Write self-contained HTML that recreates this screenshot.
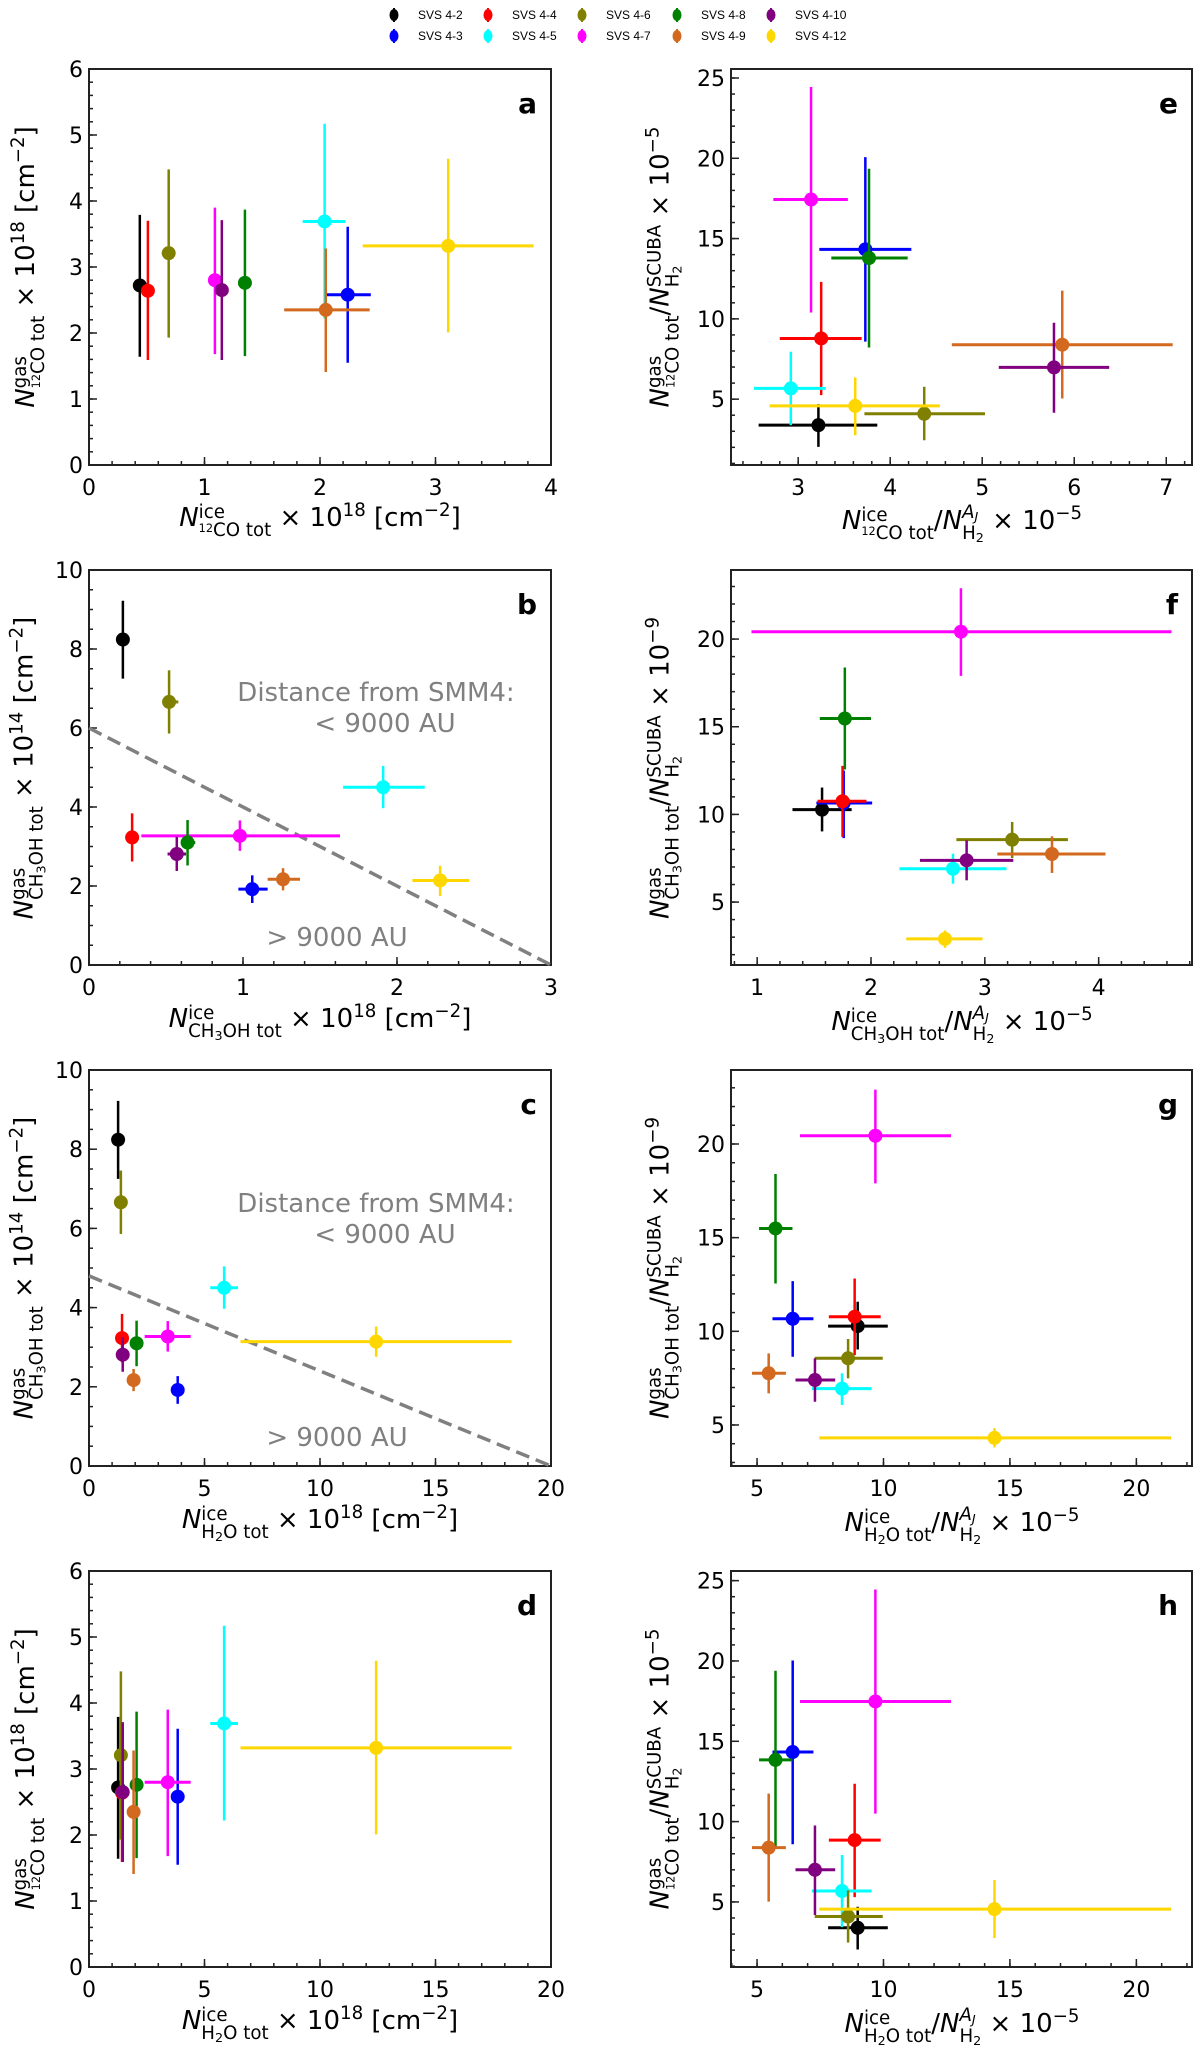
<!DOCTYPE html>
<html><head><meta charset="utf-8">
<style>
body{margin:0;background:#fff;}
#wrap{position:relative;width:1200px;height:2054px;overflow:hidden;background:#fff;font-family:"DejaVu Sans","Liberation Sans",sans-serif;}
svg{position:absolute;left:0;top:0;}
.lab{position:absolute;white-space:nowrap;font-size:26px;color:#000;line-height:1;}
.xl{transform:translateX(-50%);}
.yl{transform:translate(-50%,-50%) rotate(-90deg);}
.st{display:inline-block;vertical-align:-0.55em;font-size:.7em;line-height:1.0;text-align:left;}
.st>span{display:block;white-space:nowrap;}
.i{font-style:italic;}
.iso{font-size:.62em;vertical-align:.35em;}
.sb{font-size:.7em;vertical-align:-.25em;}
sup{font-size:.7em;vertical-align:.55em;line-height:0;}
</style></head><body>
<div id="wrap">
<svg id="chart" width="1200" height="2054"></svg>

<div class="lab xl" style="left:320px;top:504px"><span class="i">N</span><span class="st"><span>ice</span><span><span class="iso">12</span>CO tot</span></span> × 10<sup>18</sup> [cm<sup>−2</sup>]</div>
<div class="lab yl" style="left:30px;top:267px"><span class="i">N</span><span class="st"><span>gas</span><span><span class="iso">12</span>CO tot</span></span> × 10<sup>18</sup> [cm<sup>−2</sup>]</div>
<div class="lab xl" style="left:962px;top:504px"><span class="i">N</span><span class="st"><span>ice</span><span><span class="iso">12</span>CO tot</span></span>/<span class="i">N</span><span class="st"><span><span class="i">A<span class="sb">J</span></span></span><span>H<span class="sb">2</span></span></span> × 10<sup>−5</sup></div>
<div class="lab yl" style="left:666px;top:267px"><span class="i">N</span><span class="st"><span>gas</span><span><span class="iso">12</span>CO tot</span></span>/<span class="i">N</span><span class="st"><span>SCUBA</span><span>H<span class="sb">2</span></span></span> × 10<sup>−5</sup></div>
<div class="lab xl" style="left:320px;top:1005px"><span class="i">N</span><span class="st"><span>ice</span><span>CH<span class="sb">3</span>OH tot</span></span> × 10<sup>18</sup> [cm<sup>−2</sup>]</div>
<div class="lab yl" style="left:30px;top:768px"><span class="i">N</span><span class="st"><span>gas</span><span>CH<span class="sb">3</span>OH tot</span></span> × 10<sup>14</sup> [cm<sup>−2</sup>]</div>
<div class="lab xl" style="left:962px;top:1005px"><span class="i">N</span><span class="st"><span>ice</span><span>CH<span class="sb">3</span>OH tot</span></span>/<span class="i">N</span><span class="st"><span><span class="i">A<span class="sb">J</span></span></span><span>H<span class="sb">2</span></span></span> × 10<sup>−5</sup></div>
<div class="lab yl" style="left:666px;top:768px"><span class="i">N</span><span class="st"><span>gas</span><span>CH<span class="sb">3</span>OH tot</span></span>/<span class="i">N</span><span class="st"><span>SCUBA</span><span>H<span class="sb">2</span></span></span> × 10<sup>−9</sup></div>
<div class="lab xl" style="left:320px;top:1506px"><span class="i">N</span><span class="st"><span>ice</span><span>H<span class="sb">2</span>O tot</span></span> × 10<sup>18</sup> [cm<sup>−2</sup>]</div>
<div class="lab yl" style="left:30px;top:1268px"><span class="i">N</span><span class="st"><span>gas</span><span>CH<span class="sb">3</span>OH tot</span></span> × 10<sup>14</sup> [cm<sup>−2</sup>]</div>
<div class="lab xl" style="left:962px;top:1506px"><span class="i">N</span><span class="st"><span>ice</span><span>H<span class="sb">2</span>O tot</span></span>/<span class="i">N</span><span class="st"><span><span class="i">A<span class="sb">J</span></span></span><span>H<span class="sb">2</span></span></span> × 10<sup>−5</sup></div>
<div class="lab yl" style="left:666px;top:1268px"><span class="i">N</span><span class="st"><span>gas</span><span>CH<span class="sb">3</span>OH tot</span></span>/<span class="i">N</span><span class="st"><span>SCUBA</span><span>H<span class="sb">2</span></span></span> × 10<sup>−9</sup></div>
<div class="lab xl" style="left:320px;top:2007px"><span class="i">N</span><span class="st"><span>ice</span><span>H<span class="sb">2</span>O tot</span></span> × 10<sup>18</sup> [cm<sup>−2</sup>]</div>
<div class="lab yl" style="left:30px;top:1769px"><span class="i">N</span><span class="st"><span>gas</span><span><span class="iso">12</span>CO tot</span></span> × 10<sup>18</sup> [cm<sup>−2</sup>]</div>
<div class="lab xl" style="left:962px;top:2007px"><span class="i">N</span><span class="st"><span>ice</span><span>H<span class="sb">2</span>O tot</span></span>/<span class="i">N</span><span class="st"><span><span class="i">A<span class="sb">J</span></span></span><span>H<span class="sb">2</span></span></span> × 10<sup>−5</sup></div>
<div class="lab yl" style="left:666px;top:1769px"><span class="i">N</span><span class="st"><span>gas</span><span><span class="iso">12</span>CO tot</span></span>/<span class="i">N</span><span class="st"><span>SCUBA</span><span>H<span class="sb">2</span></span></span> × 10<sup>−5</sup></div>
</div>
<script>
const sources = ['SVS 4-2','SVS 4-3','SVS 4-4','SVS 4-5','SVS 4-6','SVS 4-7','SVS 4-8','SVS 4-9','SVS 4-10','SVS 4-12'];
const colors = ['#000000','#0000ff','#ff0000','#00ffff','#808000','#ff00ff','#008000','#d2691e','#800080','#ffd700'];

const aX   = [0.44,2.24,0.51,2.04,0.69,1.09,1.35,2.05,1.15,3.11];
const aXlo = [0.42,2.05,0.49,1.85,0.64,1.04,1.31,1.69,1.13,2.37];
const aXhi = [0.46,2.44,0.53,2.22,0.74,1.14,1.39,2.43,1.17,3.85];
const aY   = [2.72,2.58,2.64,3.69,3.21,2.80,2.76,2.35,2.65,3.32];
const aYlo = [1.64,1.55,1.59,2.22,1.93,1.68,1.65,1.41,1.59,2.01];
const aYhi = [3.79,3.61,3.70,5.17,4.48,3.90,3.87,3.28,3.71,4.64];
const eX   = [3.22,3.73,3.25,2.92,4.37,3.14,3.77,5.87,5.78,3.62];
const eXlo = [2.57,3.23,2.80,2.52,3.72,2.73,3.36,4.67,5.18,2.69];
const eXhi = [3.86,4.23,3.69,3.30,5.03,3.54,4.19,7.07,6.38,4.54];
const eY   = [3.38,14.33,8.78,5.67,4.09,17.43,13.79,8.39,6.98,4.58];
const eYlo = [2.03,8.58,5.25,3.38,2.44,10.4,8.22,5.04,4.15,2.75];
const eYhi = [4.69,20.07,12.3,7.95,5.77,24.44,19.35,11.76,9.76,6.35];
const bX   = [0.22,1.06,0.28,1.91,0.52,0.98,0.64,1.26,0.57,2.28];
const bXlo = [0.21,0.97,0.27,1.65,0.48,0.34,0.60,1.16,0.51,2.10];
const bXhi = [0.23,1.16,0.29,2.18,0.58,1.63,0.69,1.37,0.63,2.47];
const bY   = [8.24,1.92,3.23,4.50,6.66,3.27,3.10,2.17,2.81,2.14];
const bYlo = [7.25,1.57,2.62,3.97,5.86,2.89,2.52,1.89,2.38,1.75];
const bYhi = [9.22,2.27,3.84,5.04,7.46,3.66,3.67,2.45,3.25,2.51];
const bLineX = [0,3];
const bLineY = [6,0];
const fX   = [1.57,1.76,1.75,2.72,3.24,2.79,1.77,3.59,2.84,2.65];
const fXlo = [1.31,1.52,1.53,2.25,2.75,0.95,1.55,3.11,2.43,2.31];
const fXhi = [1.83,2.01,1.96,3.19,3.73,4.64,2.00,4.06,3.25,2.98];
const fY   = [10.27,10.65,10.75,6.90,8.56,20.42,15.47,7.74,7.38,2.90];
const fYlo = [9.03,8.65,8.72,6.05,7.51,17.9,12.56,6.66,6.24,2.39];
const fYhi = [11.53,12.5,12.77,7.76,9.57,22.9,18.38,8.75,8.52,3.38];
const cX   = [1.26,3.84,1.43,5.85,1.38,3.41,2.06,1.93,1.46,12.43];
const cXlo = [1.16,3.64,1.33,5.25,1.28,2.41,1.91,1.78,1.36,6.56];
const cXhi = [1.36,4.04,1.53,6.45,1.48,4.40,2.21,2.08,1.56,18.29];
const cY   = [8.24,1.92,3.23,4.50,6.66,3.27,3.10,2.17,2.81,3.14];
const cYlo = [7.25,1.57,2.62,3.97,5.86,2.89,2.52,1.89,2.38,2.76];
const cYhi = [9.22,2.27,3.84,5.04,7.46,3.66,3.67,2.45,3.25,3.52];
const cLineX = [0,20];
const cLineY = [4.8,0];
const gX   = [8.98,6.41,8.86,8.36,8.60,9.68,5.73,5.46,7.29,14.39];
const gXlo = [7.81,5.61,7.84,7.17,7.28,6.70,5.08,4.80,6.52,7.46];
const gXhi = [10.17,7.23,9.89,9.53,9.97,12.67,6.40,6.14,8.09,21.37];
const gY   = [10.28,10.67,10.78,6.94,8.56,20.44,15.49,7.76,7.40,4.31];
const gYlo = [9.03,8.64,8.73,6.07,7.49,17.9,12.55,6.69,6.24,3.80];
const gYhi = [11.58,12.68,12.82,7.76,9.59,22.9,18.4,8.82,8.56,4.83];
const dX   = [1.26,3.84,1.43,5.85,1.38,3.41,2.06,1.93,1.46,12.43];
const dXlo = [1.16,3.64,1.33,5.25,1.28,2.41,1.91,1.78,1.36,6.56];
const dXhi = [1.36,4.04,1.53,6.45,1.48,4.40,2.21,2.08,1.56,18.29];
const dY   = [2.72,2.58,2.64,3.69,3.21,2.80,2.76,2.35,2.65,3.32];
const dYlo = [1.64,1.55,1.59,2.22,1.93,1.68,1.65,1.41,1.59,2.01];
const dYhi = [3.79,3.61,3.70,5.17,4.48,3.90,3.87,3.28,3.71,4.64];
const hX   = [8.98,6.41,8.86,8.36,8.60,9.68,5.73,5.46,7.29,14.39];
const hXlo = [7.81,5.61,7.84,7.17,7.28,6.70,5.08,4.80,6.52,7.46];
const hXhi = [10.17,7.23,9.89,9.53,9.97,12.67,6.40,6.14,8.09,21.37];
const hY   = [3.39,14.33,8.85,5.68,4.09,17.48,13.84,8.38,7.0,4.55];
const hYlo = [2.04,8.59,5.30,3.43,2.47,10.5,8.44,5.02,4.19,2.75];
const hYhi = [4.70,20.03,12.36,7.92,5.72,24.45,19.39,11.74,9.76,6.36];

const aXTicks = [0,1,2,3,4];      const aYTicks = [0,1,2,3,4,5,6];
const eXTicks = [3,4,5,6,7];      const eYTicks = [5,10,15,20,25];
const bXTicks = [0,1,2,3];        const bYTicks = [0,2,4,6,8,10];
const fXTicks = [1,2,3,4];        const fYTicks = [5,10,15,20];
const cXTicks = [0,5,10,15,20];   const cYTicks = [0,2,4,6,8,10];
const gXTicks = [5,10,15,20];     const gYTicks = [5,10,15,20];
const dXTicks = [0,5,10,15,20];   const dYTicks = [0,1,2,3,4,5,6];
const hXTicks = [5,10,15,20];     const hYTicks = [5,10,15,20,25];

const NS='http://www.w3.org/2000/svg';
const svg=document.getElementById('chart');
function mk(tag,attrs,parent){const e=document.createElementNS(NS,tag);for(const k in attrs)e.setAttribute(k,attrs[k]);(parent||svg).appendChild(e);return e;}

(function(){
  const g=mk('g',{});
  
  
  const colX=[394,488,582,677,771];
  const order=[0,2,4,6,8,1,3,5,7,9];
  order.forEach((si,k)=>{
    const row=k<5?0:1, col=k%5;
    const cx=colX[col], cy=row?36:15;
    const it=mk('g',{},g);
    
    
    mk('line',{x1:cx,x2:cx,y1:cy-7,y2:cy+7,stroke:colors[si],'stroke-width':2},it);
    mk('ellipse',{cx:cx,cy:cy,rx:4.5,ry:6,fill:colors[si]},it);
    const t=mk('text',{x:cx+24,y:cy+4,'font-size':12,'font-family':'Liberation Sans, sans-serif',fill:'#000'},it);
    t.textContent=sources[si];
  });
})();

function panel(o){
  const g=mk('g',{});
  
  
  const L=o.L,R=o.R,T=o.T,B=o.B;
  const sx=v=>L+(v-o.xmin)/(o.xmax-o.xmin)*(R-L);
  const sy=v=>B-(v-o.ymin)/(o.ymax-o.ymin)*(B-T);
  const fr=mk('rect',{x:L,y:T,width:R-L,height:B-T,fill:'none',stroke:'#222','stroke-width':2},g);
  
  
  for(let v=Math.ceil(o.xmin/o.xminor-1e-9)*o.xminor; v<=o.xmax+1e-9; v+=o.xminor){
    const x=sx(v); mk('line',{x1:x,x2:x,y1:B,y2:B-4,stroke:'#222','stroke-width':1.5},g);
  }
  for(let v=Math.ceil(o.ymin/o.yminor-1e-9)*o.yminor; v<=o.ymax+1e-9; v+=o.yminor){
    const y=sy(v); mk('line',{x1:L,x2:L+4,y1:y,y2:y,stroke:'#222','stroke-width':1.5},g);
  }
  o.xt.forEach(v=>{
    const x=sx(v); mk('line',{x1:x,x2:x,y1:B,y2:B-8,stroke:'#222','stroke-width':1.5},g);
    const t=mk('text',{x:x,y:B+30,'text-anchor':'middle','font-size':22,'font-family':'DejaVu Sans, sans-serif',fill:'#000'},g);
    
    
    t.textContent=v;
  });
  o.yt.forEach(v=>{
    const y=sy(v); mk('line',{x1:L,x2:L+8,y1:y,y2:y,stroke:'#222','stroke-width':1.5},g);
    const t=mk('text',{x:L-6,y:y+8,'text-anchor':'end','font-size':22,'font-family':'DejaVu Sans, sans-serif',fill:'#000'},g);
    
    
    t.textContent=v;
  });
  const pl=mk('text',{x:R-14,y:T+44,'text-anchor':'end','font-size':28,'font-weight':'bold','font-family':'DejaVu Sans, sans-serif'},g);
  
  
  pl.textContent=o.letter;
  if(o.lx){
    const dl=mk('line',{x1:sx(o.lx[0]),y1:sy(o.ly[0]),x2:sx(o.lx[1]),y2:sy(o.ly[1]),stroke:'#808080','stroke-width':3.5,'stroke-dasharray':'14,7'},g);
    
    
    const txt=[['Distance from SMM4:',o.tT1],['< 9000 AU',o.tT2],['> 9000 AU',o.tT3]];
    const xs=[L+287,L+296,L+248];
    txt.forEach((a,i)=>{
      const t=mk('text',{x:xs[i],y:T+a[1],'text-anchor':'middle','font-size':26,'font-family':'DejaVu Sans, sans-serif',fill:'#808080'},g);
      
      
      t.textContent=a[0];
    });
  }
  const clip='clip'+o.letter;
  const cp=mk('clipPath',{id:clip},g); mk('rect',{x:L,y:T,width:R-L,height:B-T},cp);
  const dg=mk('g',{'clip-path':'url(#'+clip+')'},g);
  o.x.forEach((xv,i)=>{
    const pg=mk('g',{},dg);
    
    
    const c=colors[i];
    mk('line',{x1:sx(o.xlo[i]),x2:sx(o.xhi[i]),y1:sy(o.y[i]),y2:sy(o.y[i]),stroke:c,'stroke-width':3},pg);
    mk('line',{x1:sx(xv),x2:sx(xv),y1:sy(o.ylo[i]),y2:sy(o.yhi[i]),stroke:c,'stroke-width':2.5},pg);
    mk('circle',{cx:sx(xv),cy:sy(o.y[i]),r:7,fill:c},pg);
  });
}

const LX=[89,551], RX=[731,1192];
const rowsT=[69,570,1070,1571], rowsB=[465,965,1466,1967];
panel({letter:'a',L:LX[0],R:LX[1],T:rowsT[0],B:rowsB[0],xmin:0,xmax:4,ymin:0,ymax:6,xminor:0.2,yminor:0.2,xt:aXTicks,yt:aYTicks,x:aX,xlo:aXlo,xhi:aXhi,y:aY,ylo:aYlo,yhi:aYhi});
panel({letter:'e',L:RX[0],R:RX[1],T:rowsT[0],B:rowsB[0],xmin:2.27,xmax:7.28,ymin:0.9,ymax:25.56,xminor:0.2,yminor:1,xt:eXTicks,yt:eYTicks,x:eX,xlo:eXlo,xhi:eXhi,y:eY,ylo:eYlo,yhi:eYhi});
panel({letter:'b',L:LX[0],R:LX[1],T:rowsT[1],B:rowsB[1],xmin:0,xmax:3,ymin:0,ymax:10,xminor:0.2,yminor:0.5,xt:bXTicks,yt:bYTicks,x:bX,xlo:bXlo,xhi:bXhi,y:bY,ylo:bYlo,yhi:bYhi,lx:bLineX,ly:bLineY,tT1:131,tT2:162,tT3:376});
panel({letter:'f',L:RX[0],R:RX[1],T:rowsT[1],B:rowsB[1],xmin:0.77,xmax:4.82,ymin:1.41,ymax:23.94,xminor:0.2,yminor:1,xt:fXTicks,yt:fYTicks,x:fX,xlo:fXlo,xhi:fXhi,y:fY,ylo:fYlo,yhi:fYhi});
panel({letter:'c',L:LX[0],R:LX[1],T:rowsT[2],B:rowsB[2],xmin:0,xmax:20,ymin:0,ymax:10,xminor:1,yminor:0.5,xt:cXTicks,yt:cYTicks,x:cX,xlo:cXlo,xhi:cXhi,y:cY,ylo:cYlo,yhi:cYhi,lx:cLineX,ly:cLineY,tT1:142,tT2:173,tT3:376});
panel({letter:'g',L:RX[0],R:RX[1],T:rowsT[2],B:rowsB[2],xmin:3.97,xmax:22.2,ymin:2.81,ymax:23.95,xminor:1,yminor:1,xt:gXTicks,yt:gYTicks,x:gX,xlo:gXlo,xhi:gXhi,y:gY,ylo:gYlo,yhi:gYhi});
panel({letter:'d',L:LX[0],R:LX[1],T:rowsT[3],B:rowsB[3],xmin:0,xmax:20,ymin:0,ymax:6,xminor:1,yminor:0.2,xt:dXTicks,yt:dYTicks,x:dX,xlo:dXlo,xhi:dXhi,y:dY,ylo:dYlo,yhi:dYhi});
panel({letter:'h',L:RX[0],R:RX[1],T:rowsT[3],B:rowsB[3],xmin:3.97,xmax:22.2,ymin:0.95,ymax:25.6,xminor:1,yminor:1,xt:hXTicks,yt:hYTicks,x:hX,xlo:hXlo,xhi:hXhi,y:hY,ylo:hYlo,yhi:hYhi});
</script>
</body></html>
